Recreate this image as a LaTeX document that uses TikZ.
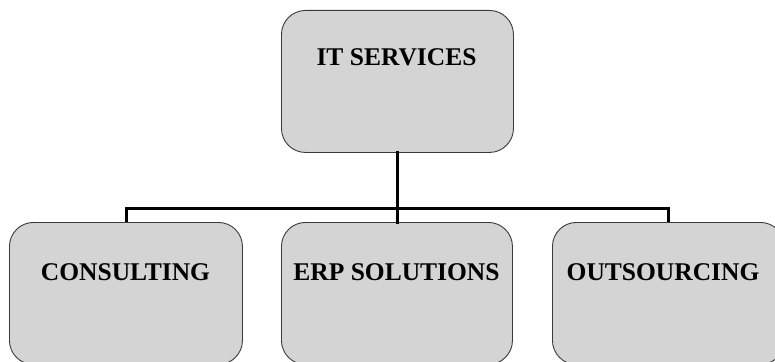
\documentclass[tikz,border=0pt]{standalone}
\usepackage{fontspec}
\setmainfont{Liberation Serif}
\definecolor{boxfill}{HTML}{D4D4D4}
\definecolor{boxline}{HTML}{3A3A3A}
\begin{document}
\begin{tikzpicture}[x=1pt,y=-1pt,
  orgbox/.style={draw=boxline,line width=0.9pt,fill=boxfill,rounded corners=24pt,
    minimum width=232pt,minimum height=142pt,inner sep=0pt,anchor=north west},
  lbl/.style={font=\bfseries\fontsize{25.5}{28}\selectfont,inner sep=0pt},
  conn/.style={line width=3pt,line cap=rect}]
\useasboundingbox (0,0) rectangle (775,361);
\clip (0,0) rectangle (775,361);
\node[orgbox] (top) at (281,10) {};
\node[lbl] (ttop) at (396.5,57) {IT SERVICES};
\node[orgbox,minimum width=233pt] (left) at (9,222) {};
\node[lbl] (tleft) at (125.5,272) {CONSULTING};
\node[orgbox,minimum width=231pt] (mid) at (281,222) {};
\node[lbl] (tmid) at (396.5,272) {ERP SOLUTIONS};
\node[orgbox,minimum width=232pt] (right) at (552,222) {};
\node[lbl] (tright) at (663,272) {OUTSOURCING};
\coordinate (jl) at (126,208);
\coordinate (jr) at (668,208);
\coordinate (jm) at (397,208);
\draw[conn] (top.south -| jm) -- (mid.north -| jm);
\draw[conn,line cap=butt] (left.north -| jl) -- (jl) -- (jr) -- (right.north -| jr);
\end{tikzpicture}
\end{document}
